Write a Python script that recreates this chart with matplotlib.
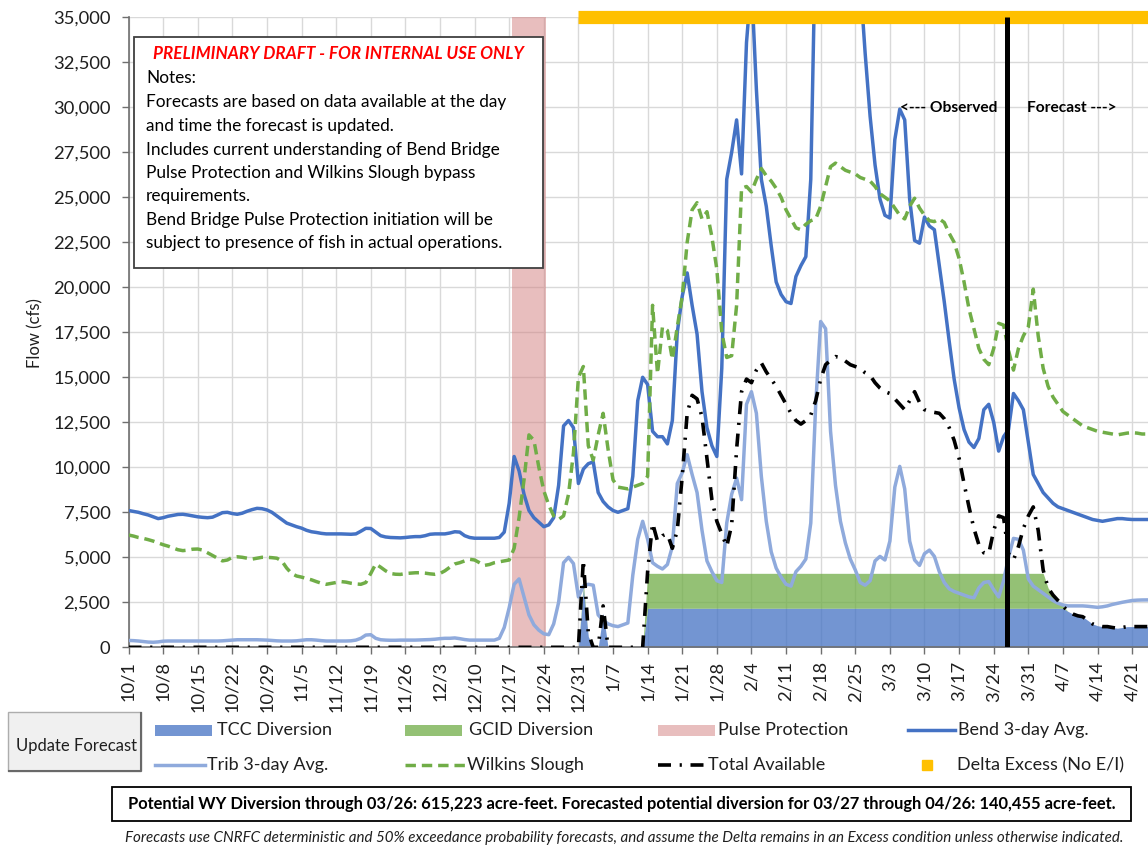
import numpy as np
import pandas as pd
import matplotlib
matplotlib.use("Agg")
import matplotlib.pyplot as plt
from matplotlib.patches import Rectangle
from matplotlib.lines import Line2D
from matplotlib.ticker import FuncFormatter

# ---------------- data (daily, 10/1/2023 .. 4/26/2024) ----------------
start_date = "2023-10-01"
end_date = "2024-04-26"

bend_3day = [
    7600, 7550, 7500, 7420, 7350, 7250, 7150,
    7200, 7280, 7330, 7380, 7390, 7350, 7300,
    7250, 7220, 7200, 7230, 7350, 7480, 7500,
    7430, 7390, 7450, 7560, 7650, 7720, 7700,
    7630, 7500, 7300, 7100, 6900, 6800, 6700,
    6620, 6500, 6420, 6380, 6330, 6300, 6300,
    6300, 6300, 6290, 6280, 6300, 6450, 6610,
    6600, 6400, 6200, 6130, 6100, 6090, 6080,
    6100, 6130, 6150, 6150, 6200, 6280, 6300,
    6300, 6300, 6350, 6420, 6400, 6200, 6100,
    6060, 6060, 6060, 6060, 6060, 6100, 6400,
    8000, 10600, 9800, 8500, 7600, 7200, 6950,
    6700, 6800, 7200, 9000, 12300, 12600, 12200,
    9100, 9900, 10200, 10300, 8600, 8100, 7800,
    7600, 7500, 7600, 7700, 9500, 13700, 15000,
    14600, 12000, 11700, 11700, 11300, 12600, 17500,
    19500, 20800, 19000, 17400, 14200, 12200, 11200,
    10600, 15500, 26000, 27500, 29300, 26300, 33600,
    37000, 31000, 26000, 24500, 22300, 20300, 19600,
    19200, 19100, 20600, 21200, 21700, 26000, 40000,
    44000, 47000, 48000, 47000, 45000, 43000, 41000,
    39000, 37000, 33000, 29500, 26800, 24900, 24000,
    23850, 28200, 29900, 29300, 24900, 22600, 22450,
    23900, 23400, 23200, 21200, 19200, 17000, 14900,
    13300, 12100, 11400, 11100, 11600, 13200, 13500,
    12500, 10900, 11700, 12100, 14100, 13700, 13200,
    11400, 9600, 9100, 8600, 8300, 8000, 7800,
    7700, 7600, 7500, 7400, 7300, 7200, 7100,
    7050, 7000, 7050, 7100, 7150, 7150, 7120,
    7100, 7100, 7100, 7100, 7100, 7100,
]

trib_3day = [
    380, 370, 350, 320, 290, 280, 300,
    340, 350, 350, 350, 350, 350, 350,
    350, 350, 350, 350, 350, 360, 380,
    400, 420, 420, 420, 420, 420, 410,
    400, 380, 360, 350, 350, 350, 360,
    390, 420, 420, 400, 370, 350, 350,
    350, 350, 350, 360, 400, 500, 680,
    700, 500, 420, 400, 390, 390, 400,
    400, 400, 400, 410, 420, 430, 450,
    480, 500, 500, 520, 480, 430, 400,
    400, 400, 400, 400, 400, 500, 1100,
    2200, 3500, 3800, 2800, 1800, 1250, 950,
    750, 700, 1300, 2500, 4700, 5000, 4650,
    2800, 3400, 3500, 3450, 1800, 1500, 1300,
    1200, 1150, 1250, 1350, 4000, 6000, 7000,
    6000, 4700, 4500, 4350, 4600, 5600, 9100,
    9700, 10700, 9600, 8600, 6500, 4800, 4200,
    3700, 3600, 6900, 8500, 9400, 8200, 13500,
    14200, 13000, 9500, 7000, 5300, 4400, 3900,
    3500, 3400, 4200, 4500, 4900, 6900, 13500,
    18100, 17700, 12000, 9000, 7000, 5800, 4900,
    4300, 3600, 3450, 3700, 4800, 5050, 4850,
    5900, 8900, 10050, 8800, 5900, 4850, 4550,
    5200, 5400, 5050, 4200, 3600, 3250, 3100,
    3000, 2900, 2800, 2750, 3300, 3600, 3650,
    3200, 2800, 3700, 5000, 6050, 6000, 5400,
    3800, 3400, 3200, 3000, 2800, 2600, 2450,
    2350, 2300, 2300, 2300, 2300, 2280, 2250,
    2220, 2250, 2300, 2380, 2440, 2500, 2550,
    2600, 2620, 2630, 2630, 2640, 2650,
]

wilkins_slough = [
    6240, 6180, 6100, 6050, 5980, 5900, 5800,
    5700, 5620, 5520, 5420, 5370, 5400, 5450,
    5460, 5400, 5250, 5100, 4950, 4800, 4850,
    5000, 5030, 5000, 4950, 4900, 4950, 5000,
    5000, 4980, 4950, 4800, 4400, 4100, 3960,
    3900, 3820, 3750, 3650, 3560, 3500, 3550,
    3600, 3650, 3620, 3560, 3520, 3500, 3600,
    4100, 4630, 4450, 4250, 4100, 4060, 4050,
    4100, 4120, 4140, 4145, 4120, 4080, 4055,
    4100, 4250, 4450, 4630, 4700, 4800, 4890,
    4850, 4700, 4550, 4600, 4700, 4750, 4800,
    4850, 5500, 7200, 9300, 11800, 11500, 10000,
    8700, 7900, 7300, 7100, 7300, 8500, 10800,
    15000, 15600, 11200, 10400, 11800, 13000, 11000,
    9300, 8900, 8850, 8800, 8900, 9000, 9100,
    9500, 19000, 15200, 17800, 17600, 16000, 17800,
    19500, 22500, 24300, 24700, 23800, 24200, 22800,
    21000, 17500, 16100, 16200, 19000, 25500, 25600,
    25300, 26000, 26600, 26200, 25900, 25500, 25000,
    24300, 23800, 23300, 23200, 23500, 23700, 23800,
    24500, 25600, 26700, 26900, 26700, 26500, 26400,
    26300, 26100, 26000, 25900, 25600, 25200, 25000,
    24800, 24400, 24000, 23800, 24500, 24950, 24400,
    24000, 23700, 23650, 23800, 23600, 23000, 22500,
    21600, 20300, 18800, 17700, 16600, 16000, 15700,
    16600, 18000, 17900, 16500, 15400, 16600, 17300,
    17800, 19900, 17300, 15500, 14500, 13900, 13500,
    13100, 12900, 12700, 12500, 12300, 12200, 12100,
    12000, 11950, 11900, 11850, 11800, 11850, 11900,
    11920, 11900, 11850, 11850, 11850, 11850,
]

total_available = [
    0, 0, 0, 0, 0, 0, 0,
    0, 0, 0, 0, 0, 0, 0,
    0, 0, 0, 0, 0, 0, 0,
    0, 0, 0, 0, 0, 0, 0,
    0, 0, 0, 0, 0, 0, 0,
    0, 0, 0, 0, 0, 0, 0,
    0, 0, 0, 0, 0, 0, 0,
    0, 0, 0, 0, 0, 0, 0,
    0, 0, 0, 0, 0, 0, 0,
    0, 0, 0, 0, 0, 0, 0,
    0, 0, 0, 0, 0, 0, 0,
    0, 0, 0, 0, 0, 0, 0,
    0, 0, 0, 0, 0, 0, 0,
    0, 4850, 800, 0, 0, 2300, 0,
    0, 0, 0, 0, 0, 0, 0,
    4200, 6900, 5900, 6200, 6300, 5500, 6500,
    9500, 13000, 14000, 13800, 12800, 10500, 8200,
    7000, 6300, 5600, 6800, 11000, 14200, 14900,
    14700, 15400, 15800, 15300, 14900, 14500, 14000,
    13500, 13000, 12600, 12400, 12600, 12900, 13700,
    14900, 15700, 15950, 16150, 16100, 15900, 15700,
    15600, 15500, 15250, 15100, 14700, 14400, 14200,
    14100, 13800, 13500, 13200, 13700, 14200, 13600,
    13200, 13100, 13050, 13000, 12700, 12200, 11500,
    10500, 9100, 7800, 6600, 5700, 5250, 5200,
    6500, 7300, 7200, 5200, 4850, 5600, 6600,
    7300, 7800, 6500, 4300, 3300, 2900, 2600,
    2300, 2000, 1850, 1750, 1700, 1500, 1300,
    1200, 1150, 1150, 1100, 1060, 1100, 1150,
    1150, 1150, 1150, 1150, 1150, 1150,
]

tcc_diversion = [
    0, 0, 0, 0, 0, 0, 0,
    0, 0, 0, 0, 0, 0, 0,
    0, 0, 0, 0, 0, 0, 0,
    0, 0, 0, 0, 0, 0, 0,
    0, 0, 0, 0, 0, 0, 0,
    0, 0, 0, 0, 0, 0, 0,
    0, 0, 0, 0, 0, 0, 0,
    0, 0, 0, 0, 0, 0, 0,
    0, 0, 0, 0, 0, 0, 0,
    0, 0, 0, 0, 0, 0, 0,
    0, 0, 0, 0, 0, 0, 0,
    0, 0, 0, 0, 0, 0, 0,
    0, 0, 0, 0, 0, 0, 0,
    0, 3300, 600, 0, 0, 1900, 0,
    0, 0, 0, 0, 0, 0, 0,
    2170, 2170, 2170, 2170, 2170, 2170, 2170,
    2170, 2170, 2170, 2170, 2170, 2170, 2170,
    2170, 2170, 2170, 2170, 2170, 2170, 2170,
    2170, 2170, 2170, 2170, 2170, 2170, 2170,
    2170, 2170, 2170, 2170, 2170, 2170, 2170,
    2170, 2170, 2170, 2170, 2170, 2170, 2170,
    2170, 2170, 2170, 2170, 2170, 2170, 2170,
    2170, 2170, 2170, 2170, 2170, 2170, 2170,
    2170, 2170, 2170, 2170, 2170, 2170, 2170,
    2170, 2170, 2170, 2170, 2170, 2170, 2170,
    2170, 2170, 2170, 2170, 2170, 2170, 2170,
    2170, 2170, 2170, 2170, 2170, 2170, 2170,
    2170, 2000, 1850, 1750, 1700, 1500, 1300,
    1200, 1150, 1150, 1100, 1060, 1100, 1150,
    1150, 1150, 1150, 1150, 1150, 1150,
]

gcid_diversion = [
    0, 0, 0, 0, 0, 0, 0,
    0, 0, 0, 0, 0, 0, 0,
    0, 0, 0, 0, 0, 0, 0,
    0, 0, 0, 0, 0, 0, 0,
    0, 0, 0, 0, 0, 0, 0,
    0, 0, 0, 0, 0, 0, 0,
    0, 0, 0, 0, 0, 0, 0,
    0, 0, 0, 0, 0, 0, 0,
    0, 0, 0, 0, 0, 0, 0,
    0, 0, 0, 0, 0, 0, 0,
    0, 0, 0, 0, 0, 0, 0,
    0, 0, 0, 0, 0, 0, 0,
    0, 0, 0, 0, 0, 0, 0,
    0, 300, 0, 0, 0, 0, 0,
    0, 0, 0, 0, 0, 0, 0,
    1940, 1940, 1940, 1940, 1940, 1940, 1940,
    1940, 1940, 1940, 1940, 1940, 1940, 1940,
    1940, 1940, 1940, 1940, 1940, 1940, 1940,
    1940, 1940, 1940, 1940, 1940, 1940, 1940,
    1940, 1940, 1940, 1940, 1940, 1940, 1940,
    1940, 1940, 1940, 1940, 1940, 1940, 1940,
    1940, 1940, 1940, 1940, 1940, 1940, 1940,
    1940, 1940, 1940, 1940, 1940, 1940, 1940,
    1940, 1940, 1940, 1940, 1940, 1940, 1940,
    1940, 1940, 1940, 1940, 1940, 1940, 1940,
    1940, 1940, 1940, 1940, 1940, 1940, 1940,
    1940, 1940, 1940, 1940, 1130, 730, 430,
    130, 0, 0, 0, 0, 0, 0,
    0, 0, 0, 0, 0, 0, 0,
    0, 0, 0, 0, 0, 0,
]

pulse_protection_dates = ["2023-12-18", "2023-12-24"]   # first / last day
delta_excess_dates = ["2023-12-31", "2024-04-26"]        # first / last day
observed_forecast_split = 177.7                         # days after 10/1 (3/26-3/27)

y_ticks = list(range(0, 35001, 2500))
y_label = "Flow (cfs)"

legend_labels = ["TCC Diversion", "GCID Diversion", "Pulse Protection", "Bend 3-day Avg.",
                 "Trib 3-day Avg.", "Wilkins Slough", "Total Available", "Delta Excess (No E/I)"]

note_title = "PRELIMINARY DRAFT - FOR INTERNAL USE ONLY"
note_lines = [
    "Notes:",
    "Forecasts are based on data available at the day",
    "and time the forecast is updated.",
    "Includes current understanding of Bend Bridge",
    "Pulse Protection and Wilkins Slough bypass",
    "requirements.",
    "Bend Bridge Pulse Protection initiation will be",
    "subject to presence of fish in actual operations.",
]
summary_text = ("Potential WY Diversion through 03/26: 615,223 acre-feet. "
                "Forecasted potential diversion for 03/27 through 04/26: 140,455 acre-feet.")
footer_text = ("Forecasts use CNRFC deterministic and 50% exceedance probability forecasts, "
               "and assume the Delta remains in an Excess condition unless otherwise indicated.")

# ---------------- derived ----------------
dates = pd.date_range(start_date, end_date, freq="D")
days = np.arange(len(dates))
bend = np.array(bend_3day, float)
trib = np.array(trib_3day, float)
wilk = np.array(wilkins_slough, float)
total = np.array(total_available, float)
tcc = np.array(tcc_diversion, float)
gcid = np.array(gcid_diversion, float)
assert len(bend) == len(trib) == len(wilk) == len(total) == len(tcc) == len(gcid) == len(days)

def day_of(s):
    return int((pd.Timestamp(s) - pd.Timestamp(start_date)).days)

pulse_days = np.arange(day_of(pulse_protection_dates[0]), day_of(pulse_protection_dates[1]) + 1)
delta_days = np.arange(day_of(delta_excess_dates[0]), day_of(delta_excess_dates[1]) + 1)

tick_days = days[::7]
tick_labels = [f"{d.month}/{d.day}" for d in dates[::7]]

# ---------------- colours ----------------
C_BEND = "#4472C4"
C_TRIB = "#8FAADC"
C_WILK = "#70AD47"
C_TCC = "#4472C4"
C_GCID = "#70AD47"
C_PULSE = "#D27F7F"
C_DELTA = "#FFC000"
C_TEXT = "#1F1F1F"
C_AXIS = "#6F6F6F"

plt.rcParams["font.family"] = ["Lato", "DejaVu Sans"]

W, H = 1148, 846
fig = plt.figure(figsize=(W / 100, H / 100), dpi=100)

def fx(px):
    return px / W

def fy(py):
    return 1 - py / H

ax_l, ax_t, ax_r, ax_b = 128.5, 17.3, 1148, 647.3
ax = fig.add_axes([fx(ax_l), fy(ax_b), fx(ax_r) - fx(ax_l), fy(ax_t) - fy(ax_b)])
px_per_day = 4.944
ax.set_xlim(0, (ax_r - ax_l) / px_per_day)
ax.set_ylim(0, 35000)

# areas
ax.fill_between(days, 0, tcc, color=C_TCC, alpha=0.75, lw=0, zorder=2)
ax.fill_between(days, tcc, tcc + gcid, color=C_GCID, alpha=0.75, lw=0, zorder=2)
# pulse protection columns
ax.bar(pulse_days, np.full(len(pulse_days), 35000), width=1.0, color=C_PULSE, alpha=0.5,
       lw=0, zorder=2)
# lines
ax.plot(days, bend, color=C_BEND, lw=2.5, zorder=4)
ax.plot(days, trib, color=C_TRIB, lw=2.5, zorder=4)
ax.plot(days, wilk, color=C_WILK, lw=2.5, dashes=(3.0, 1.7), zorder=4)
ax.plot(days, total, color="black", lw=2.6, dashes=(3.6, 2.4, 0.6, 2.4), zorder=5)
# delta excess marker bar along top
ax.plot(delta_days, np.full(len(delta_days), 35000), color=C_DELTA, lw=9.5,
        solid_capstyle="butt", clip_on=False, zorder=6)
# observed / forecast divider
ax.plot([observed_forecast_split] * 2, [0, 35000], color="black", lw=3.6, zorder=6,
        solid_capstyle="butt")
ax.text(observed_forecast_split - 2.0, 29950, "<--- Observed", ha="right", va="center",
        fontsize=11.2, fontweight="bold", color="black", zorder=7)
ax.text(observed_forecast_split + 4.1, 29950, "Forecast --->", ha="left", va="center",
        fontsize=11.2, fontweight="bold", color="black", zorder=7)

# axes styling
ax.set_xticks(tick_days)
ax.set_xticklabels(tick_labels, rotation=90)
ax.set_yticks(y_ticks)
ax.yaxis.set_major_formatter(FuncFormatter(lambda v, p: f"{v:,.0f}"))
ax.grid(True, color="#D9D9D9", lw=1.0)
ax.set_axisbelow(True)
for s in ("top", "right"):
    ax.spines[s].set_visible(False)
for s in ("left", "bottom"):
    ax.spines[s].set_color(C_AXIS)
    ax.spines[s].set_linewidth(1.2)
ax.tick_params(axis="both", direction="out", length=5, width=1.0, color=C_AXIS,
               labelsize=13.2, labelcolor=C_TEXT)
ax.tick_params(axis="y", pad=8)
ax.tick_params(axis="x", pad=5)
fig.text(fx(35), fy(333), y_label, rotation=90, ha="center", va="center", fontsize=12,
         color=C_TEXT)

# ---------------- notes box ----------------
def add_rect(x0, y0, x1, y1, **kw):
    r = Rectangle((fx(x0), fy(y1)), fx(x1) - fx(x0), fy(y0) - fy(y1),
                  transform=fig.transFigure, **kw)
    fig.add_artist(r)
    return r

add_rect(134, 37, 543, 268, facecolor="white", edgecolor="#404040", lw=1.3, zorder=10)
fig.text(fx(338), fy(54), note_title, ha="center", va="center", fontsize=12.3,
         fontweight="bold", fontstyle="italic", color="#FF0000", zorder=11)
note_y = [78, 102.5, 126, 150, 173, 196.5, 220, 243]
for yy, line in zip(note_y, note_lines):
    fig.text(fx(146), fy(yy), line, ha="left", va="center", fontsize=12.4, color="black",
             zorder=11)

# ---------------- legend (manual, Excel-like 4 columns) ----------------
col_x = [155, 405, 658, 908]
row_y = [730, 765]
LFS = 13.0

def legend_patch(x0, y, color, alpha):
    add_rect(x0, y - 5.5, x0 + 57, y + 5.5, facecolor=color, alpha=alpha, lw=0, zorder=10)

def legend_line(x0, y, length, **kw):
    fig.add_artist(Line2D([fx(x0), fx(x0 + length)], [fy(y), fy(y)],
                          transform=fig.transFigure, zorder=10, **kw))

def legend_text(x, y, s):
    fig.text(fx(x), fy(y), s, ha="left", va="center", fontsize=LFS, color=C_TEXT, zorder=11)

legend_patch(col_x[0], row_y[0], C_TCC, 0.75)
legend_text(col_x[0] + 62, row_y[0], legend_labels[0])
legend_patch(col_x[1], row_y[0], C_GCID, 0.75)
legend_text(col_x[1] + 64, row_y[0], legend_labels[1])
legend_patch(col_x[2], row_y[0], C_PULSE, 0.5)
legend_text(col_x[2] + 60, row_y[0], legend_labels[2])
legend_line(col_x[3], row_y[0], 47, color=C_BEND, lw=2.5)
legend_text(col_x[3] + 50, row_y[0], legend_labels[3])

legend_line(col_x[0], row_y[1], 50, color=C_TRIB, lw=2.5)
legend_text(col_x[0] + 52, row_y[1], legend_labels[4])
legend_line(col_x[1], row_y[1], 60, color=C_WILK, lw=2.5, dashes=(3.0, 1.7))
legend_text(col_x[1] + 62, row_y[1], legend_labels[5])
legend_line(col_x[2], row_y[1], 48, color="black", lw=2.6, dashes=(3.6, 2.4, 0.6, 2.4))
legend_text(col_x[2] + 50, row_y[1], legend_labels[6])
fig.add_artist(Line2D([fx(col_x[3] + 19)], [fy(row_y[1])], transform=fig.transFigure,
                      marker="s", ms=7.5, color=C_DELTA, linestyle="none", zorder=10))
legend_text(col_x[3] + 49, row_y[1], legend_labels[7])

# ---------------- "Update Forecast" button ----------------
add_rect(8, 712, 141, 771, facecolor="#F0F0F0", edgecolor="#ADADAD", lw=1.0, zorder=10)
fig.add_artist(Line2D([fx(9), fx(141), fx(141)], [fy(771), fy(771), fy(713)],
                      transform=fig.transFigure, color="#696969", lw=1.5, zorder=10))
fig.text(fx(76), fy(746), "Update Forecast", ha="center", va="center", fontsize=12,
         color=C_TEXT, zorder=11)

# ---------------- summary + footer ----------------
add_rect(112, 787, 1131, 821, facecolor="white", edgecolor="black", lw=1.3, zorder=10)
fig.text(fx(621.5), fy(804), summary_text, ha="center", va="center", fontsize=11.9,
         fontweight="bold", color="black", zorder=11)
fig.text(fx(624), fy(838), footer_text, ha="center", va="center", fontsize=10.9,
         fontstyle="italic", color=C_TEXT, zorder=11)

fig.savefig("out.png", dpi=100)
